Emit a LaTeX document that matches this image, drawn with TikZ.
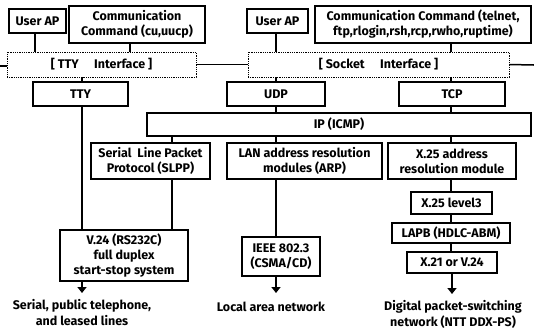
\documentclass[tikz,border=0pt]{standalone}
\usepackage{fontspec}
\setmainfont{Fira Sans}
\usetikzlibrary{arrows.meta,calc}
\begin{document}
\begin{tikzpicture}[x=1pt,y=-1pt,
  every node/.style={font=\fontsize{12.5}{15}\selectfont\bfseries, align=center, inner sep=0pt},
  box/.style={draw, line width=1.6pt, rectangle},
  ibox/.style={draw, densely dotted, line width=0.8pt, rectangle},
  conn/.style={line width=1.5pt},
  arr/.style={line width=1.5pt, -{Triangle[width=9pt,length=6pt]}},
  lbl/.style={font=\fontsize{12.5}{16}\selectfont\bfseries}]
\useasboundingbox (0,0) rectangle (534,333);
% top row
\node[box, minimum width=57, minimum height=24] (ua1) at (37.5,21) {User AP};
\node[box, minimum width=136, minimum height=37] (cc1) at (137,24.5) {Communication\\Command (cu,uucp)};
\node[box, minimum width=61, minimum height=24] (ua2) at (277.5,21) {User AP};
\node[box, minimum width=216, minimum height=37] (cc2) at (423,24.5) {Communication Command (telnet,\\ftp,rlogin,rsh,rcp,rwho,ruptime)};
% interfaces
\node[ibox, minimum width=189, minimum height=25] (ttyi) at (101.5,64.5) {[\ TTY\quad\ Interface ]};
\node[ibox, minimum width=261, minimum height=25] (sock) at (378.5,64.5) {[ Socket\quad\ Interface ]};
\coordinate (lend) at (0,66);
\coordinate (rend) at (534,65);
% transport
\node[box, minimum width=95, minimum height=24] (tty) at (80.5,94) {TTY};
\node[box, minimum width=98, minimum height=24] (udp) at (276,94) {UDP};
\node[box, minimum width=106, minimum height=24] (tcp) at (452,94) {TCP};
\node[box, minimum width=384, minimum height=23] (ip) at (339,124.5) {IP (ICMP)};
% lower modules
\node[box, minimum width=119, minimum height=36] (slpp) at (150.5,161) {Serial\ \ Line Packet\\Protocol (SLPP)};
\node[box, minimum width=155, minimum height=36] (lan) at (304.5,161) {LAN address resolution\\modules (ARP)};
\node[box, minimum width=128, minimum height=36] (xa) at (452,161) {X.25 address\\resolution module};
\node[box, minimum width=81, minimum height=22] (xl3) at (451.5,203) {X.25 level3};
\node[box, minimum width=118, minimum height=20] (lapb) at (451,233) {LAPB (HDLC-ABM)};
\node[box, minimum width=90, minimum height=21] (x21) at (452,262.5) {X.21 or V.24};
\node[box, minimum width=128, minimum height=51] (v24) at (124,255.5) {V.24 (RS232C)\\full duplex\\start-stop system};
\node[box, minimum width=78, minimum height=39] (ieee) at (281,256.5) {IEEE 802.3\\(CSMA/CD)};
% bottom labels
\coordinate (t1) at (82,293);
\coordinate (t2) at (276,293);
\coordinate (t3) at (452,294);
\node[lbl] (l1) at (82,312.5) {Serial, public telephone,\\and leased lines};
\node[lbl] (l2) at (271,307) {Local area network};
\node[lbl] (l3) at (453,314) {Digital packet-switching\\network (NTT DDX-PS)};
% connectors
\draw[conn] (35,0 |- ua1.south) -- (35,0 |- ttyi.north);
\draw[conn] (130,0 |- cc1.south) -- (130,0 |- ttyi.north);
\draw[conn] (276,0 |- ua2.south) -- (276,0 |- sock.north);
\draw[conn] (451,0 |- cc2.south) -- (451,0 |- sock.north);
\draw[conn] (lend) -- (lend -| ttyi.west);
\draw[conn] (ttyi.east) -- (sock.west);
\draw[conn] (sock.east) -- (rend);
\draw[conn] (82,0 |- ttyi.south) -- (82,0 |- tty.north);
\draw[conn] (276,0 |- sock.south) -- (276,0 |- udp.north);
\draw[conn] (451,0 |- sock.south) -- (451,0 |- tcp.north);
\draw[conn] (276,0 |- udp.south) -- (276,0 |- ip.north);
\draw[conn] (451,0 |- tcp.south) -- (451,0 |- ip.north);
\draw[conn] (82,0 |- tty.south) -- (82,0 |- v24.north);
\draw[conn] (172,0 |- ip.south) -- (172,0 |- slpp.north);
\draw[conn] (276,0 |- ip.south) -- (276,0 |- lan.north);
\draw[conn] (451,0 |- ip.south) -- (451,0 |- xa.north);
\draw[conn] (172,0 |- slpp.south) -- (172,0 |- v24.north);
\draw[conn] (276,0 |- lan.south) -- (276,0 |- ieee.north);
\draw[conn] (451,0 |- xa.south) -- (451,0 |- xl3.north);
\draw[conn] (451,0 |- xl3.south) -- (451,0 |- lapb.north);
\draw[conn] (451,0 |- lapb.south) -- (451,0 |- x21.north);
\draw[arr] (82,0 |- v24.south) -- (t1);
\draw[arr] (276,0 |- ieee.south) -- (t2);
\draw[arr] (452,0 |- x21.south) -- (t3);
\end{tikzpicture}
\end{document}
